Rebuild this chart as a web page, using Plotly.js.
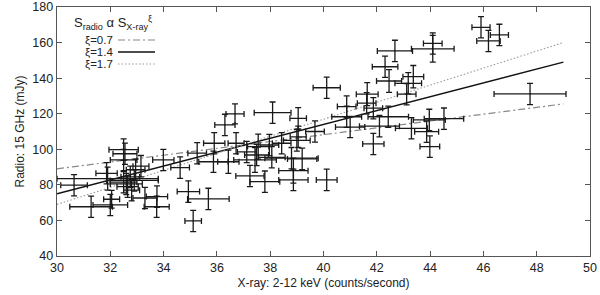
<!DOCTYPE html>
<html>
<head>
<meta charset="utf-8">
<script src="https://cdn.plot.ly/plotly-3.0.1.min.js"></script>
<style>html,body{margin:0;padding:0;background:#fff;}#chart{width:600px;height:295px;}</style>
</head>
<body>
<div id="chart"></div>
<script>
// X-ray count rate (counts/second) and radio flux (mJy) with errors
const xray = [30.64,31.28,31.9,31.86,32.0,32.05,32.5,32.55,32.5,32.95,33.15,32.5,32.65,32.8,32.9,32.75,32.6,33.3,33.75,33.74,
  33.99,34.62,34.93,35.11,35.68,35.26,35.87,35.9,36.3,36.68,36.72,36.43,37.12,37.55,37.97,38.43,38.09,39.05,39.05,39.0,
  39.68,37.43,38.8,37.24,37.8,38.87,38.87,40.12,39.2,37.49,38.06,40.12,40.87,40.87,41.0,41.64,41.62,41.87,41.87,42.1,
  42.43,42.31,42.46,42.68,43.37,43.18,43.12,43.3,43.87,43.97,44.52,43.99,44.1,44.1,45.91,46.6,46.19,47.75];
const xrayErr = [0.5,0.8,1.9,0.4,0.65,0.3,0.55,0.45,0.5,0.35,0.3,0.5,0.4,0.3,0.9,0.35,0.6,0.45,0.4,0.47,
  0.4,0.35,0.42,0.31,0.78,0.35,0.55,0.4,0.38,0.34,0.3,0.4,0.35,0.4,0.35,0.35,0.69,0.31,0.3,0.5,
  0.35,0.8,1.0,0.53,0.56,0.55,0.55,0.39,0.55,0.45,0.5,0.51,0.35,0.56,0.55,0.41,0.35,0.35,0.4,0.75,
  0.76,0.48,0.47,0.66,0.39,0.5,0.35,0.6,0.45,0.6,0.74,0.37,0.8,0.35,0.34,0.34,0.44,1.35];
const radio = [79.8,67.7,83.5,86.5,68.7,71.9,99.8,97.5,94,88.5,90.5,81.5,79,77,82.5,84.5,80.5,72.6,73.4,67.7,
  94,89.7,76.2,59.7,72.1,97.8,93,103.4,113.7,119.9,103.4,93,98.5,101.5,102.4,103.4,120.6,117.4,107,105,
  110,94,95,85,81.8,88,82.8,82.8,94.6,96.8,95.5,134.6,124,118.3,112.5,131,125.9,123.1,103,113,
  118.3,146.4,138.4,155.3,140.8,137.1,131,111.8,109.9,116.5,117.2,101.5,156.5,159.5,168.6,164.3,160.9,131.1];
const radioErr = [6,6,6.5,6,6,5,6,6,6,6,6,6,6,6,6,6,6,6,6,6,
  6,6,6,6,6,6,6,6,6,5.6,6,6.5,6,7,6,6,6,6,6,6,
  6,7,6,6,6,7,6,6,6,6,6,6,6,6,6,6.5,6,6,6,6,
  6,6,6.4,6,6.3,6,6,6,6,6,6,6,7.5,6,6,6,6,6];

// Model lines S_radio ∝ S_xray^ξ (end points)
const modelX = [30, 49];
const model07 = [89, 125.5];
const model14 = [75, 149];
const model17 = [69, 160];
const legendLabels = ['ξ=0.7', 'ξ=1.4', 'ξ=1.7'];

const dashDot = '7px,3px,2px,3px';
const dotted = '1.5px,2px';
const traces = [
  {x: modelX, y: model07, mode: 'lines', line: {color: '#888', width: 1.2, dash: dashDot}, showlegend: false, hoverinfo: 'skip'},
  {x: modelX, y: model14, mode: 'lines', line: {color: '#111', width: 1.5}, showlegend: false, hoverinfo: 'skip'},
  {x: modelX, y: model17, mode: 'lines', line: {color: '#999', width: 1.1, dash: dotted}, showlegend: false, hoverinfo: 'skip'},
  {x: xray, y: radio, mode: 'markers', marker: {size: 1, color: '#111'},
   error_x: {type: 'data', array: xrayErr, color: '#1a1a1a', thickness: 1.3, width: 3},
   error_y: {type: 'data', array: radioErr, color: '#1a1a1a', thickness: 1.3, width: 3},
   showlegend: false}
];

const fnt = {family: 'Liberation Sans, Arial, sans-serif', size: 12.5, color: '#222'};
const L = 57, R = 590, T = 7, B = 256;
const px = v => (v - L) / (R - L);
const py = v => (B - v) / (B - T);
const legY = [40, 52, 64];
const legDash = [dashDot, 'solid', dotted];
const legCol = ['#888', '#111', '#999'];
const legW = [1.2, 1.5, 1.1];

const annotations = [
  {xref: 'paper', yref: 'paper', x: px(72), y: py(23), xanchor: 'left', yanchor: 'middle', showarrow: false,
   text: 'S<sub>radio</sub> α S<sub>X-ray</sub><sup>ξ</sup>', font: Object.assign({}, fnt, {size: 13})}
];
const shapes = [];
legendLabels.forEach((t, i) => {
  annotations.push({xref: 'paper', yref: 'paper', x: px(114), y: py(legY[i]), xanchor: 'right', yanchor: 'middle',
    showarrow: false, text: t, font: Object.assign({}, fnt, {size: 11.5}), borderpad: 0});
  shapes.push({type: 'line', xref: 'paper', yref: 'paper', x0: px(118), x1: px(155), y0: py(legY[i]), y1: py(legY[i]),
    line: {color: legCol[i], width: legW[i], dash: legDash[i]}});
});

const axisCommon = {
  showgrid: false, zeroline: false, showline: true, linecolor: '#555', linewidth: 1.3,
  mirror: 'ticks', ticks: 'inside', ticklen: 5, tickcolor: '#555', tickwidth: 1,
  tickfont: fnt
};

const layout = {
  width: 600, height: 295,
  margin: {l: 57, r: 10, t: 7, b: 39},
  paper_bgcolor: '#fff', plot_bgcolor: '#fff',
  font: fnt,
  xaxis: Object.assign({}, axisCommon, {range: [30, 50], dtick: 2, tick0: 30,
    title: {text: 'X-ray: 2-12 keV (counts/second)', font: Object.assign({}, fnt, {size: 12}), standoff: 4}}),
  yaxis: Object.assign({}, axisCommon, {range: [40, 180], dtick: 20, tick0: 40,
    title: {text: 'Radio: 15 GHz (mJy)', font: Object.assign({}, fnt, {size: 12}), standoff: 5}}),
  annotations: annotations,
  shapes: shapes,
  showlegend: false
};

Plotly.newPlot('chart', traces, layout, {displayModeBar: false, staticPlot: true});
</script>
</body>
</html>
